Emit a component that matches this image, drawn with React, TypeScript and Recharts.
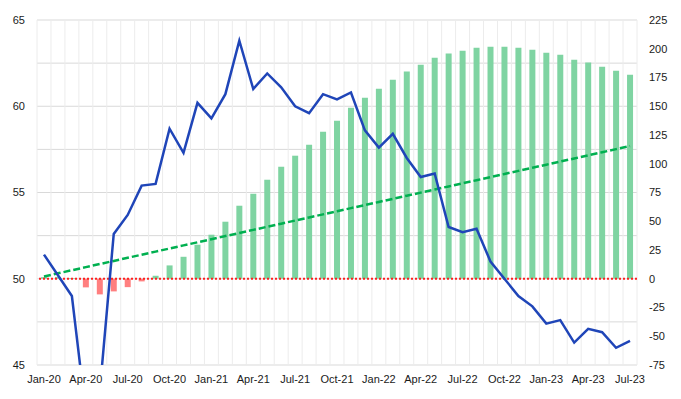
import { ComposedChart, Bar, Line, XAxis, YAxis, CartesianGrid, ReferenceLine, Cell } from 'recharts';

const months = [
  'Jan-20', 'Feb-20', 'Mar-20', 'Apr-20', 'May-20', 'Jun-20', 'Jul-20', 'Aug-20', 'Sep-20', 'Oct-20', 'Nov-20', 'Dec-20',
  'Jan-21', 'Feb-21', 'Mar-21', 'Apr-21', 'May-21', 'Jun-21', 'Jul-21', 'Aug-21', 'Sep-21', 'Oct-21', 'Nov-21', 'Dec-21',
  'Jan-22', 'Feb-22', 'Mar-22', 'Apr-22', 'May-22', 'Jun-22', 'Jul-22', 'Aug-22', 'Sep-22', 'Oct-22', 'Nov-22', 'Dec-22',
  'Jan-23', 'Feb-23', 'Mar-23', 'Apr-23', 'May-23', 'Jun-23', 'Jul-23',
];

// left axis (blue line)
const index = [
  51.4, 50.2, 49.0, 42.2, 43.5, 52.6, 53.7, 55.4, 55.5, 58.7, 57.3, 60.2,
  59.3, 60.7, 63.8, 61.0, 61.9, 61.1, 60.0, 59.6, 60.7, 60.4, 60.8, 58.6,
  57.6, 58.4, 57.0, 55.9, 56.1, 53.0, 52.7, 52.9, 51.0, 50.0, 49.0, 48.4,
  47.4, 47.6, 46.3, 47.1, 46.9, 46.0, 46.4,
];

// right axis (bars)
const cumulative = [
  1.4, 1.6, 0.6, -7.5, -13.6, -11, -7.3, -2.3, 2.6, 11.6, 19.1, 29.6,
  38.3, 49.6, 63.5, 73.9, 86.1, 97.4, 107, 116.5, 127.8, 137.4, 148.7, 157.4,
  165.2, 173, 180.3, 186.1, 192.2, 195.8, 198.3, 200.9, 201.7, 201.7, 200.9, 199.1,
  196.5, 194.8, 190.4, 188.1, 184.3, 180.9, 177.4,
];

// right axis (dashed trend)
const trend = [
  2, 4.7, 7.4, 10.1, 12.8, 15.5, 18.2, 20.9, 23.6, 26.3, 29, 31.7,
  34.4, 37.1, 39.8, 42.5, 45.2, 47.9, 50.6, 53.3, 56, 58.7, 61.4, 64.1,
  66.8, 69.5, 72.2, 74.9, 77.6, 80.3, 83, 85.7, 88.4, 91.1, 93.8, 96.5,
  99.2, 101.9, 104.6, 107.3, 110, 112.7, 115.4,
];

const leftTicks = [45, 50, 55, 60, 65];
const rightTicks = [-75, -50, -25, 0, 25, 50, 75, 100, 125, 150, 175, 200, 225];

const data = months.map((m, i) => ({
  month: m,
  index: index[i],
  cumulative: cumulative[i],
  trend: trend[i],
}));

const tickStyle = { fontSize: 11, fill: '#1a1a1a', fontFamily: '"Liberation Sans", Arial, sans-serif' };

export default function App() {
  return (
    <div style={{ position: 'absolute', left: 0, top: 0, background: '#fff' }}>
      <ComposedChart width={681} height={399} data={data} margin={{ top: 20, right: 0, bottom: 0, left: 0 }}>
        <CartesianGrid
          yAxisId="left"
          vertical={false}
          stroke="#d9d9d9"
          horizontalCoordinatesGenerator={({ offset }: any) =>
            Array.from({ length: 9 }, (_, i) => offset.top + (i * offset.height) / 8)
          }
        />
        <CartesianGrid
          yAxisId="left"
          horizontal={false}
          stroke="#ececec"
          verticalCoordinatesGenerator={({ offset }: any) =>
            Array.from({ length: months.length + 1 }, (_, i) => offset.left + (i * offset.width) / months.length)
          }
        />
        <XAxis
          dataKey="month"
          interval={2}
          tickLine={false}
          axisLine={false}
          tickMargin={4}
          height={34}
          tick={tickStyle}
        />
        <YAxis
          yAxisId="left"
          domain={[45, 65]}
          ticks={leftTicks}
          allowDataOverflow
          tickLine={false}
          axisLine={false}
          tickMargin={6}
          width={37}
          tick={tickStyle}
        />
        <YAxis
          yAxisId="right"
          orientation="right"
          domain={[-75, 225]}
          ticks={rightTicks}
          tickLine={false}
          axisLine={false}
          tickMargin={6}
          width={44}
          tick={{ ...tickStyle, textAnchor: 'start' }}
        />
        <Bar yAxisId="right" dataKey="cumulative" barSize={6} isAnimationActive={false}>
          {data.map((d, i) => (
            <Cell key={i} fill={d.cumulative < 0 ? '#ff7f7f' : '#7fd4a2'} />
          ))}
        </Bar>
        <Line
          yAxisId="right"
          dataKey="trend"
          stroke="#00b050"
          strokeWidth={2.5}
          strokeDasharray="7 3"
          dot={false}
          isAnimationActive={false}
        />
        <ReferenceLine yAxisId="right" y={0} stroke="#ff2020" strokeWidth={2} strokeDasharray="2 2" />
        <Line
          yAxisId="left"
          dataKey="index"
          stroke="#1f45b8"
          strokeWidth={2.5}
          dot={false}
          isAnimationActive={false}
        />
      </ComposedChart>
    </div>
  );
}
